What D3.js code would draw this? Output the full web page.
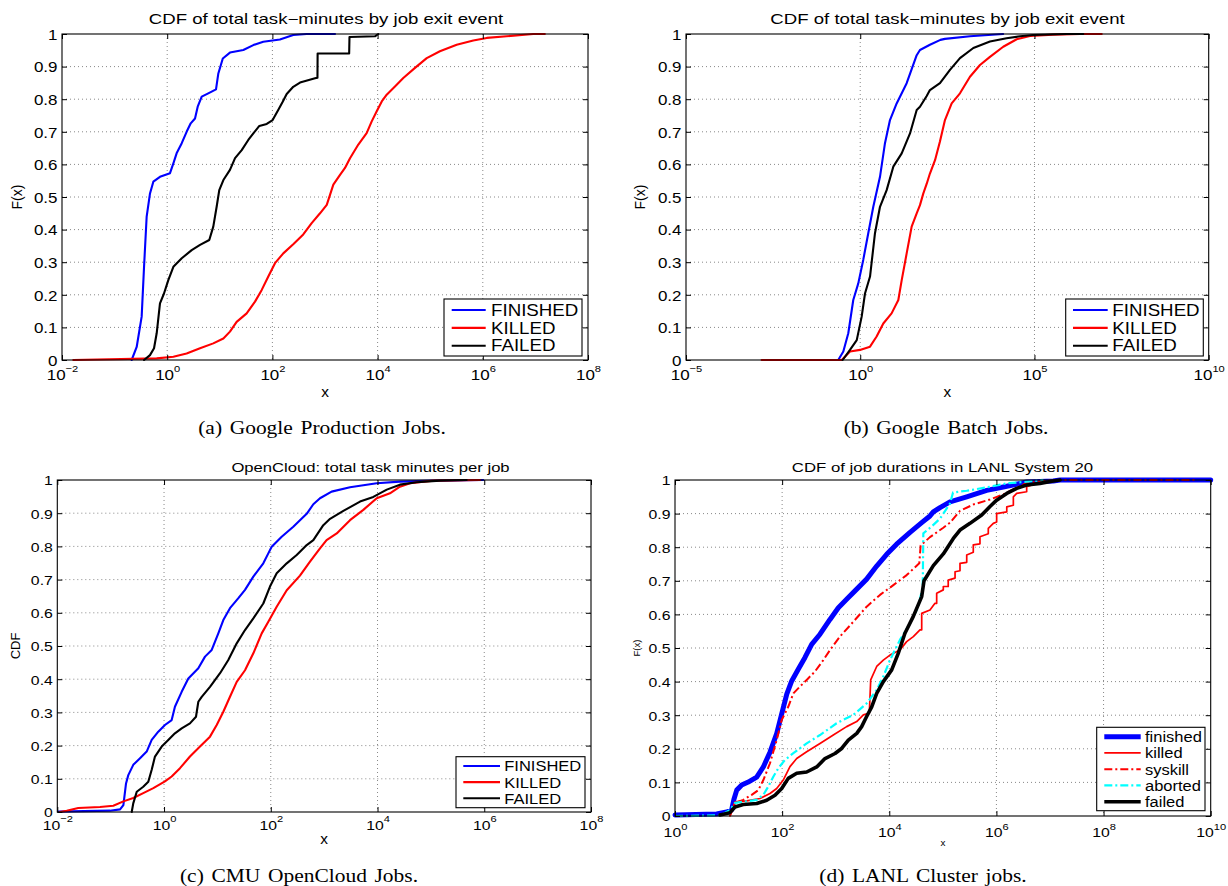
<!DOCTYPE html>
<html>
<head>
<meta charset="utf-8">
<title>Job exit event CDFs</title>
<script src="https://cdn.jsdelivr.net/npm/d3@7/dist/d3.min.js"></script>
<style>
  html, body { margin: 0; padding: 0; background: #fff; }
  svg { display: block; }
</style>
</head>
<body>
<svg id="fig" width="1228" height="886"></svg>
<script>
// ---------------------------------------------------------------
// Empirical CDF points, each entry is [x, F(x)]
// ---------------------------------------------------------------
const exitEvents = ["FINISHED", "KILLED", "FAILED"];
const lanlStates = ["finished", "killed", "syskill", "aborted", "failed"];

const cdfTicks = [0, 0.1, 0.2, 0.3, 0.4, 0.5, 0.6, 0.7, 0.8, 0.9, 1];
const ticksProd = [1e-2, 1, 1e2, 1e4, 1e6, 1e8];
const ticksBatch = [1e-5, 1, 1e5, 1e10];
const ticksCloud = [1e-2, 1, 1e2, 1e4, 1e6, 1e8];
const ticksLanl = [1, 1e2, 1e4, 1e6, 1e8, 1e10];

// (a) Google production jobs: total task-minutes
const prodFinished = [[0.211,0],[0.263,0.04],[0.327,0.133],[0.363,0.286],[0.407,0.44],[0.471,0.511],[0.545,0.547],[0.729,0.562],[1.13,0.573],[1.31,0.603],[1.51,0.634],[1.89,0.665],[2.34,0.70],[2.80,0.726],[3.38,0.741],[3.80,0.777],[4.53,0.808],[6.03,0.818],[8.47,0.830],[9.38,0.879],[11.4,0.925],[15.6,0.943],[28.0,0.951],[43.4,0.966],[67.1,0.976],[139,0.983],[249,0.997],[447,1],[1550,1]];
const prodKilled = [[0.0164,0],[0.631,0.005],[1.31,0.01],[2.34,0.02],[4.21,0.036],[7.52,0.051],[11.7,0.066],[15.6,0.087],[20.9,0.117],[32.4,0.143],[46.7,0.179],[62.7,0.215],[83.6,0.256],[112,0.297],[161,0.327],[249,0.355],[386,0.385],[558,0.42],[804,0.45],[1080,0.476],[1440,0.538],[1930,0.568],[2400,0.589],[2990,0.619],[4300,0.661],[6190,0.696],[7730,0.732],[9620,0.763],[12000,0.793],[14900,0.814],[21400,0.839],[30800,0.865],[51400,0.896],[85900,0.926],[153000,0.947],[319000,0.967],[659000,0.98],[1190000,0.988],[2840000,0.993],[9120000,1],[15100000,1]];
const prodFailed = [[0.363,0],[0.471,0.015],[0.562,0.036],[0.631,0.082],[0.729,0.174],[0.869,0.204],[1.05,0.245],[1.31,0.286],[1.89,0.312],[2.92,0.337],[4.21,0.353],[6.31,0.368],[7.52,0.409],[8.71,0.47],[9.77,0.521],[11.7,0.552],[15.6,0.583],[19.5,0.619],[26.1,0.644],[34.8,0.675],[43.4,0.695],[56.4,0.718],[78.0,0.724],[101,0.736],[129,0.767],[157,0.792],[187,0.816],[249,0.838],[335,0.851],[646,0.864],[719,0.866],[724,0.94],[2880,0.94],[2920,0.991],[8910,0.993],[10300,1]];

// (b) Google batch jobs
const batchFinished = [[0.234,0],[0.327,0.026],[0.454,0.082],[0.631,0.184],[0.879,0.235],[1.22,0.307],[1.70,0.389],[2.37,0.47],[3.69,0.562],[5.13,0.665],[7.14,0.736],[11.1,0.787],[21.5,0.849],[41.7,0.935],[51.8,0.951],[100,0.967],[200,0.982],[269,0.985],[1410,0.993],[12600,1]];
const batchKilled = [[0.00148,0],[0.295,0],[0.508,0.026],[0.984,0.031],[1.91,0.041],[2.95,0.072],[4.59,0.112],[7.94,0.143],[12.4,0.184],[15.5,0.245],[21.5,0.327],[29.9,0.409],[41.7,0.45],[51.8,0.475],[64.7,0.511],[80.5,0.54],[100,0.572],[140,0.613],[194,0.67],[270,0.736],[421,0.787],[728,0.818],[1410,0.869],[2730,0.905],[5280,0.93],[12700,0.961],[30900,0.984],[74100,0.994],[339000,0.998],[2040000,1],[8510000,1]];
const batchFailed = [[0.313,0],[0.508,0.031],[0.794,0.061],[1.10,0.133],[1.37,0.204],[1.91,0.256],[2.65,0.389],[3.69,0.47],[5.73,0.521],[8.89,0.593],[15.5,0.634],[26.8,0.695],[41.7,0.767],[51.8,0.777],[80.7,0.81],[100,0.828],[194,0.849],[376,0.89],[728,0.926],[1760,0.957],[5280,0.977],[15800,0.987],[38500,0.993],[91200,0.997],[832000,1],[2510000,1]];

// (c) CMU OpenCloud jobs
const cloudFinished = [[0.0105,0.001],[0.097,0.004],[0.150,0.008],[0.173,0.021],[0.194,0.086],[0.214,0.111],[0.265,0.142],[0.355,0.162],[0.473,0.182],[0.587,0.217],[0.780,0.242],[1.04,0.262],[1.39,0.277],[1.60,0.317],[2.14,0.362],[2.85,0.402],[4.39,0.433],[5.86,0.468],[7.82,0.488],[10.4,0.538],[12.9,0.578],[17.2,0.614],[24.7,0.644],[32.9,0.669],[47.1,0.709],[72.4,0.749],[89.9,0.779],[104,0.799],[160,0.829],[264,0.859],[471,0.898],[627,0.927],[836,0.945],[1380,0.965],[3050,0.978],[9660,0.99],[26300,0.995],[111000,0.998],[955000,1]];
const cloudKilled = [[0.0112,0],[0.0150,0.004],[0.0247,0.012],[0.0631,0.015],[0.112,0.019],[0.173,0.032],[0.265,0.042],[0.408,0.057],[0.630,0.072],[1.04,0.092],[1.39,0.107],[1.99,0.132],[3.06,0.167],[4.72,0.197],[7.26,0.227],[9.70,0.262],[12.9,0.302],[17.2,0.347],[23.0,0.392],[32.9,0.427],[47.1,0.478],[67.6,0.538],[89.9,0.573],[129,0.618],[199,0.668],[352,0.712],[543,0.754],[836,0.794],[1110,0.819],[1720,0.839],[3050,0.879],[5420,0.91],[9660,0.945],[17100,0.96],[26300,0.98],[40600,0.99],[111000,0.998],[832000,1]];
const cloudFailed = [[0.248,0],[0.265,0.026],[0.308,0.061],[0.408,0.076],[0.507,0.091],[0.587,0.127],[0.676,0.167],[0.904,0.197],[1.20,0.217],[1.60,0.237],[2.14,0.252],[3.06,0.267],[3.97,0.287],[4.39,0.332],[5.08,0.347],[7.26,0.377],[11.2,0.418],[16.0,0.458],[23.0,0.508],[32.9,0.548],[47.1,0.583],[72.4,0.628],[96.6,0.679],[129,0.719],[199,0.749],[306,0.774],[471,0.804],[627,0.819],[964,0.864],[1290,0.883],[2290,0.907],[4700,0.935],[8340,0.949],[14900,0.971],[26300,0.986],[54200,0.993],[148000,0.998],[468000,1]];

// (d) LANL System 20 job durations
const lanlFinished = [[1,0.003],[6.0,0.006],[9.23,0.012],[11.4,0.018],[12.6,0.05],[14.2,0.077],[17.6,0.092],[23.3,0.101],[33.5,0.116],[44.6,0.146],[59.3,0.19],[79.1,0.245],[98.2,0.304],[122,0.363],[151,0.402],[200,0.437],[267,0.472],[356,0.511],[509,0.541],[782,0.585],[1120,0.62],[1600,0.645],[2290,0.67],[3780,0.705],[5820,0.744],[8950,0.779],[13700,0.809],[24400,0.844],[40300,0.873],[57500,0.893],[66400,0.905],[88500,0.918],[136000,0.935],[279000,0.95],[658000,0.969],[1340000,0.979],[3670000,0.994],[11500000,0.997],[15400000,1],[1e10,1]];
const lanlKilled = [[10.6,0],[13.2,0.042],[21.8,0.045],[38.6,0.052],[59.3,0.067],[79.1,0.082],[105,0.107],[140,0.147],[187,0.171],[287,0.191],[509,0.216],[902,0.241],[1600,0.266],[2470,0.281],[3280,0.301],[4240,0.306],[4500,0.405],[5820,0.445],[7740,0.464],[10300,0.479],[15800,0.494],[21100,0.519],[28100,0.534],[37400,0.554],[40300,0.554],[40300,0.603],[57500,0.613],[71300,0.633],[76700,0.633],[76700,0.663],[102000,0.673],[102000,0.683],[126000,0.683],[126000,0.702],[169000,0.708],[169000,0.727],[209000,0.73],[209000,0.752],[279000,0.755],[279000,0.777],[370000,0.785],[370000,0.807],[493000,0.81],[493000,0.831],[705000,0.84],[705000,0.856],[875000,0.871],[1010000,0.875],[1010000,0.9],[1560000,0.905],[1560000,0.92],[2070000,0.925],[2070000,0.95],[2390000,0.96],[3670000,0.965],[3670000,0.98],[5650000,0.99],[11500000,0.997],[15400000,1]];
const lanlSyskill = [[10.6,0],[13.2,0.039],[18.8,0.048],[27.0,0.063],[35.9,0.077],[44.6,0.107],[59.3,0.157],[79.1,0.226],[98.2,0.286],[130,0.325],[162,0.365],[215,0.385],[287,0.405],[410,0.43],[586,0.464],[782,0.494],[1200,0.534],[2130,0.578],[3780,0.623],[6710,0.658],[11900,0.687],[21100,0.717],[36300,0.752],[38500,0.805],[57500,0.83],[102000,0.858],[136000,0.873],[209000,0.908],[370000,0.927],[759000,0.942],[1340000,0.957],[2390000,0.977],[3670000,0.991],[7530000,0.997],[15400000,1],[5.5e9,1]];
const lanlAborted = [[1,0],[7.08,0.002],[10.6,0.018],[13.2,0.039],[21.8,0.044],[33.5,0.048],[44.6,0.063],[55.2,0.088],[68.4,0.117],[84.7,0.142],[113,0.167],[162,0.187],[287,0.216],[509,0.241],[1040,0.276],[2130,0.301],[3780,0.335],[5820,0.375],[7740,0.415],[10300,0.464],[15800,0.524],[24400,0.573],[34800,0.623],[42100,0.683],[43200,0.841],[61900,0.862],[88500,0.885],[102000,0.9],[136000,0.93],[155000,0.963],[279000,0.968],[658000,0.978],[1550000,0.99],[3670000,0.995],[7530000,1]];
const lanlFailed = [[6.92,0.003],[10.6,0.01],[13.2,0.027],[18.8,0.034],[33.5,0.037],[51.5,0.047],[73.6,0.062],[98.2,0.082],[130,0.112],[187,0.127],[287,0.131],[442,0.146],[631,0.171],[971,0.186],[1290,0.201],[1720,0.226],[2470,0.246],[3050,0.266],[3780,0.296],[4700,0.325],[5820,0.365],[7740,0.4],[11100,0.435],[14700,0.484],[19600,0.544],[28100,0.594],[40300,0.653],[44500,0.7],[66400,0.745],[102000,0.78],[157000,0.826],[209000,0.851],[321000,0.871],[531000,0.896],[759000,0.921],[1010000,0.94],[1560000,0.96],[2390000,0.975],[3670000,0.985],[6520000,0.99],[11500000,0.997],[15400000,1]];

// ---------------------------------------------------------------
// Styles and layout
// ---------------------------------------------------------------
const SANS = "'Liberation Sans', Arial, Helvetica, sans-serif";
const SERIF = "'Liberation Serif', 'Times New Roman', Times, serif";
const DASHDOT = "8,3,2,3";

const plainStyles = [
  { color: "#0000ff", width: 2.1 },
  { color: "#ff0000", width: 2.1 },
  { color: "#000000", width: 2.1 }
];
const lanlStyles = [
  { color: "#0000ff", width: 5 },
  { color: "#ff0000", width: 1.7 },
  { color: "#ff0000", width: 2, dash: DASHDOT },
  { color: "#00ffff", width: 2.2, dash: DASHDOT },
  { color: "#000000", width: 3.6 }
];

const panels = [
  {
    left: 62, right: 588, top: 34, bottom: 360,
    xDomain: [1e-2, 1e8], xTicks: ticksProd,
    series: [prodFinished, prodKilled, prodFailed], names: exitEvents, styles: plainStyles,
    title: "CDF of total task\u2212minutes by job exit event", titleX: 326, titleY: 24, titleSize: 14, titleSx: 1.33,
    yLabel: "F(x)", yLabelX: 16.5, yLabelSize: 14,
    xLabelY: 396.5, xLabelSize: 14,
    tickSize: 14.5, xTickDrop: 20, supRise: 8,
    legend: { x: 444, y: 299, w: 138, h: 57, row0: 310, step: 17.85, lx1: 451.7, lx2: 485.7, tx: 491, size: 16, sx: 1.17 },
    caption: "(a) Google Production Jobs.", capX: 322, capY: 434
  },
  {
    left: 686, right: 1208.7, top: 34, bottom: 360,
    xDomain: [1e-5, 1e10], xTicks: ticksBatch,
    series: [batchFinished, batchKilled, batchFailed], names: exitEvents, styles: plainStyles,
    title: "CDF of total task\u2212minutes by job exit event", titleX: 947.5, titleY: 24, titleSize: 14, titleSx: 1.33,
    yLabel: "F(x)", yLabelX: 639.5, yLabelSize: 14,
    xLabelY: 396.5, xLabelSize: 14,
    tickSize: 14.5, xTickDrop: 20, supRise: 8,
    legend: { x: 1065.7, y: 299, w: 137.6, h: 57, row0: 310, step: 17.85, lx1: 1073, lx2: 1107.7, tx: 1112.3, size: 16, sx: 1.17 },
    caption: "(b) Google Batch Jobs.", capX: 946, capY: 434
  },
  {
    left: 57.3, right: 591, top: 480, bottom: 812,
    xDomain: [1e-2, 1e8], xTicks: ticksCloud,
    series: [cloudFinished, cloudKilled, cloudFailed], names: exitEvents, styles: plainStyles,
    title: "OpenCloud: total task minutes per job", titleX: 370.5, titleY: 471.5, titleSize: 13, titleSx: 1.28,
    yLabel: "CDF", yLabelX: 15.5, yLabelSize: 13,
    xLabelY: 843.5, xLabelSize: 14,
    tickSize: 13.5, xTickDrop: 18, supRise: 8,
    legend: { x: 456, y: 756.7, w: 129, h: 51, row0: 766, step: 16.15, lx1: 463.3, lx2: 500, tx: 504.3, size: 15, sx: 1.1 },
    caption: "(c) CMU OpenCloud Jobs.", capX: 299, capY: 882
  },
  {
    left: 675, right: 1210.7, top: 480, bottom: 816,
    xDomain: [1, 1e10], xTicks: ticksLanl,
    series: [lanlFinished, lanlKilled, lanlSyskill, lanlAborted, lanlFailed], names: lanlStates, styles: lanlStyles,
    title: "CDF of job durations in LANL System 20", titleX: 942.5, titleY: 471.5, titleSize: 13, titleSx: 1.29,
    yLabel: "F(x)", yLabelX: 636.7, yLabelSize: 9.5,
    xLabelY: 846, xLabelSize: 9,
    tickSize: 13.5, xTickDrop: 21, supRise: 6.5,
    legend: { x: 1096.7, y: 727.3, w: 108.3, h: 83.4, row0: 736.7, step: 16.25, lx1: 1104.3, lx2: 1140.7, tx: 1145, size: 15, sx: 1.1 },
    caption: "(d) LANL Cluster jobs.", capX: 923, capY: 882
  }
];

const TICK_SX = 1.17;

// ---------------------------------------------------------------
// Drawing
// ---------------------------------------------------------------
const svg = d3.select("#fig");

// text whose glyphs are widened horizontally by sx around its anchor
function wideText(parent, str, x, y, o) {
  return parent.append("text")
    .attr("transform", `translate(${x},${y}) scale(${o.sx || 1},1)`)
    .attr("font-family", o.family || SANS)
    .attr("font-size", o.size)
    .attr("text-anchor", o.anchor || "middle")
    .attr("fill", "#000")
    .text(str);
}

function expText(v) {
  const e = Math.round(Math.log10(v));
  return e < 0 ? "\u2212" + (-e) : String(e);
}

function styleLine(sel, st) {
  return sel.attr("fill", "none")
    .attr("stroke", st.color)
    .attr("stroke-width", st.width)
    .attr("stroke-dasharray", st.dash || null)
    .attr("stroke-linejoin", "round")
    .attr("stroke-linecap", st.dash ? "butt" : "round");
}

function drawPanel(p) {
  const g = svg.append("g");
  const x = d3.scaleLog().domain(p.xDomain).range([p.left, p.right]);
  const y = d3.scaleLinear().domain([0, 1]).range([p.bottom, p.top]);

  // dotted grid at the labelled ticks
  const grid = g.append("g")
    .attr("stroke", "#7a7a7a").attr("stroke-width", 0.9).attr("stroke-dasharray", "1,3");
  grid.selectAll("line.gx")
    .data(p.xTicks.filter(v => v > p.xDomain[0] && v < p.xDomain[1]))
    .join("line").attr("class", "gx")
    .attr("x1", d => x(d)).attr("x2", d => x(d))
    .attr("y1", p.top).attr("y2", p.bottom);
  grid.selectAll("line.gy")
    .data(cdfTicks.filter(v => v > 0 && v < 1))
    .join("line").attr("class", "gy")
    .attr("x1", p.left).attr("x2", p.right)
    .attr("y1", d => y(d)).attr("y2", d => y(d));

  // CDF curves
  const line = d3.line().x(d => x(d[0])).y(d => y(d[1]));
  p.series.forEach((s, i) => {
    styleLine(g.append("path").attr("d", line(s)), p.styles[i]);
  });

  // axes with inward ticks on all four sides
  const axB = g.append("g").attr("transform", `translate(0,${p.bottom})`)
    .call(d3.axisBottom(x).tickValues(p.xTicks).tickSizeInner(-5).tickSizeOuter(0).tickPadding(0));
  axB.select(".domain").remove();
  axB.attr("font-family", SANS).attr("font-size", p.tickSize);
  axB.selectAll(".tick text").each(function (d) {
    const t = d3.select(this).text(null)
      .attr("y", p.xTickDrop).attr("dy", null)
      .attr("transform", `scale(${TICK_SX},1)`);
    t.append("tspan").text("10");
    t.append("tspan").attr("dy", -p.supRise).attr("font-size", 9.5).text(expText(d));
  });

  const axT = g.append("g").attr("transform", `translate(0,${p.top})`)
    .call(d3.axisTop(x).tickValues(p.xTicks).tickSizeInner(-5).tickSizeOuter(0).tickFormat(() => ""));
  axT.select(".domain").remove();
  axT.selectAll("text").remove();

  const axL = g.append("g").attr("transform", `translate(${p.left},0)`)
    .call(d3.axisLeft(y).tickValues(cdfTicks).tickSizeInner(-5).tickSizeOuter(0).tickPadding(4)
      .tickFormat(d3.format("~g")));
  axL.select(".domain").remove();
  axL.attr("font-family", SANS).attr("font-size", p.tickSize);
  axL.selectAll(".tick text")
    .attr("x", -4.5 / TICK_SX).attr("dy", "0.36em")
    .attr("transform", `scale(${TICK_SX},1)`);

  const axR = g.append("g").attr("transform", `translate(${p.right},0)`)
    .call(d3.axisRight(y).tickValues(cdfTicks).tickSizeInner(-5).tickSizeOuter(0).tickFormat(() => ""));
  axR.select(".domain").remove();
  axR.selectAll("text").remove();

  // plot frame
  g.append("rect")
    .attr("x", p.left).attr("y", p.top)
    .attr("width", p.right - p.left).attr("height", p.bottom - p.top)
    .attr("fill", "none").attr("stroke", "#000").attr("stroke-width", 1.1);

  // title and axis labels
  wideText(g, p.title, p.titleX, p.titleY, { size: p.titleSize, sx: p.titleSx });
  wideText(g, "x", (p.left + p.right) / 2, p.xLabelY, { size: p.xLabelSize, sx: 1.1 });
  g.append("text")
    .attr("transform", `translate(${p.yLabelX},${(p.top + p.bottom) / 2}) rotate(-90)`)
    .attr("font-family", SANS).attr("font-size", p.yLabelSize)
    .attr("text-anchor", "middle").attr("dominant-baseline", "central")
    .text(p.yLabel);

  // legend
  const L = p.legend;
  const lg = g.append("g");
  lg.append("rect")
    .attr("x", L.x).attr("y", L.y).attr("width", L.w).attr("height", L.h)
    .attr("fill", "#fff").attr("stroke", "#000").attr("stroke-width", 1.1);
  p.names.forEach((name, i) => {
    const cy = L.row0 + i * L.step;
    styleLine(lg.append("line")
      .attr("x1", L.lx1).attr("x2", L.lx2).attr("y1", cy).attr("y2", cy), p.styles[i])
      .attr("stroke-linecap", "butt");
    wideText(lg, name, L.tx, cy + L.size * 0.36, { size: L.size, sx: L.sx, anchor: "start" });
  });

  // sub-figure caption
  wideText(svg, p.caption, p.capX, p.capY, { size: 19, sx: 1.13, family: SERIF })
    .attr("word-spacing", 2);
}

panels.forEach(drawPanel);
</script>
</body>
</html>
